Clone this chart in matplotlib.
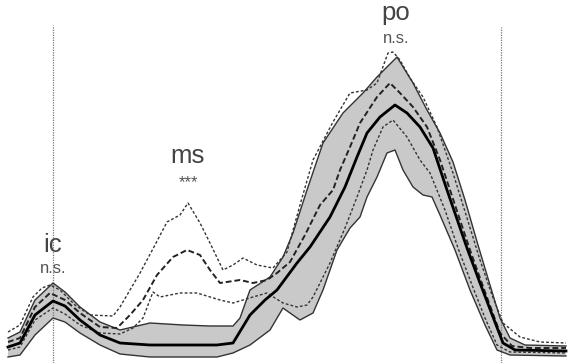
import matplotlib
matplotlib.use("Agg")
import matplotlib.pyplot as plt
import numpy as np

# frame index (x) and signal height (y)
band_up_x = [8, 20, 35, 53, 65, 80, 100, 120, 150, 183, 210, 233, 240, 250, 270, 283, 293, 307, 323, 343,
             363, 377, 397, 413, 427, 440, 453, 465, 478, 490, 500, 510, 525, 566]
band_up_y = [25, 31, 63, 80, 71, 56, 41, 33, 40, 38, 37, 37, 45, 73, 86, 106, 130, 173, 220, 250,
             270, 286, 306, 280, 253, 230, 201, 163, 118, 78, 45, 25, 18, 17]

band_lo_x = [8, 20, 35, 53, 65, 80, 100, 120, 150, 183, 217, 233, 250, 270, 283, 290, 300, 313, 323, 337,
             350, 360, 367, 377, 387, 395, 403, 413, 423, 432, 440, 455, 470, 485, 497, 510, 566]
band_lo_y = [6, 8, 28, 45, 41, 30, 18, 9, 6, 6, 6, 10, 18, 33, 55, 50, 43, 50, 73, 113,
             135, 146, 166, 186, 210, 213, 193, 176, 168, 166, 148, 113, 73, 38, 13, 8, 7]

mean_x = [8, 20, 35, 53, 65, 80, 100, 120, 150, 183, 217, 233, 250, 265, 277, 297, 310, 330, 345, 357,
          367, 380, 395, 407, 420, 433, 447, 467, 480, 493, 503, 515, 566]
mean_y = [16, 20, 48, 62, 57, 43, 28, 20, 18, 18, 18, 20, 48, 63, 73, 100, 116, 146, 176, 206,
          230, 246, 258, 250, 236, 215, 173, 115, 80, 46, 20, 13, 12]

pat_hi_x = [8, 20, 33, 42, 50, 60, 75, 90, 113, 120, 140, 155, 167, 180, 188, 200, 210, 223, 233, 243,
            257, 273, 287, 300, 313, 333, 350, 367, 377, 388, 393, 400, 410, 423, 437, 453, 467, 480, 492, 503,
            520, 540, 566]
pat_hi_y = [31, 38, 66, 75, 78, 73, 58, 48, 47, 56, 90, 118, 141, 148, 160, 140, 120, 93, 98, 105,
            98, 95, 111, 158, 203, 241, 270, 273, 280, 310, 311, 303, 285, 266, 236, 190, 145, 103, 68, 40,
            26, 21, 20]

pat_mid_x = [8, 20, 35, 50, 65, 80, 100, 117, 130, 143, 157, 173, 187, 200, 210, 220, 240, 253, 267, 277,
             290, 305, 320, 333, 340, 350, 360, 377, 390, 400, 413, 427, 440, 455, 470, 485, 500, 512, 530, 566]
pat_mid_y = [21, 25, 56, 70, 63, 50, 36, 35, 48, 63, 88, 106, 113, 108, 93, 80, 83, 80, 83, 90,
             101, 128, 158, 173, 193, 216, 240, 266, 280, 270, 256, 236, 203, 158, 113, 71, 30, 17, 15, 15]

pat_lo_x = [8, 20, 35, 53, 65, 80, 100, 120, 133, 143, 153, 160, 180, 197, 220, 233, 243, 253, 267, 283,
            297, 307, 313, 320, 330, 345, 357, 367, 373, 383, 393, 407, 420, 430, 445, 458, 472, 485, 497, 510, 566]
pat_lo_y = [13, 16, 43, 55, 49, 38, 30, 29, 35, 45, 71, 66, 70, 70, 63, 60, 63, 66, 70, 60,
            56, 58, 66, 80, 100, 135, 166, 193, 213, 236, 243, 226, 203, 190, 153, 115, 78, 45, 18, 11, 10]

events_x = [53, 501]
events_top = [338, 336]

labels = ["ic", "ms", "po"]
label_x = [53, 188, 396]
label_y = [111, 200, 343]
signif = ["n.s.", "***", "n.s."]
signif_y = [90, 176, 320]

fig = plt.figure(figsize=(5.71, 3.63), dpi=100)
ax = fig.add_axes([0, 0, 1, 1])
ax.set_xlim(0, 571)
ax.set_ylim(0, 363)
ax.axis("off")

ax.fill(np.r_[band_up_x, band_lo_x[::-1]], np.r_[band_up_y, band_lo_y[::-1]],
        color="#c9c9c9", lw=0, zorder=1)
ax.plot(band_up_x, band_up_y, color="#333333", lw=1.0, zorder=3)
ax.plot(band_lo_x, band_lo_y, color="#333333", lw=1.0, zorder=3)
ax.plot(mean_x, mean_y, color="black", lw=2.0, zorder=4)

ax.plot(pat_hi_x, pat_hi_y, color="#333333", lw=1.0, ls=(0, (2, 1.5)), zorder=3)
ax.plot(pat_mid_x, pat_mid_y, color="#222222", lw=1.4, ls=(0, (3, 1.5)), zorder=3)
ax.plot(pat_lo_x, pat_lo_y, color="#333333", lw=1.0, ls=(0, (2, 1.5)), zorder=3)

for ex, et in zip(events_x, events_top):
    ax.vlines(ex, 0, et, color="#777777", lw=0.9, ls=(0, (1, 1)), zorder=2)

for lab, lx, ly, sg, sy in zip(labels, label_x, label_y, signif, signif_y):
    ax.text(lx, ly, lab, ha="center", va="baseline", fontsize=18.5,
            family="Liberation Sans", color="#444444")
    ax.text(lx, sy, sg, ha="center", va="baseline", fontsize=12,
            family="Liberation Sans", color="#555555")

fig.savefig("out.png", dpi=100)
